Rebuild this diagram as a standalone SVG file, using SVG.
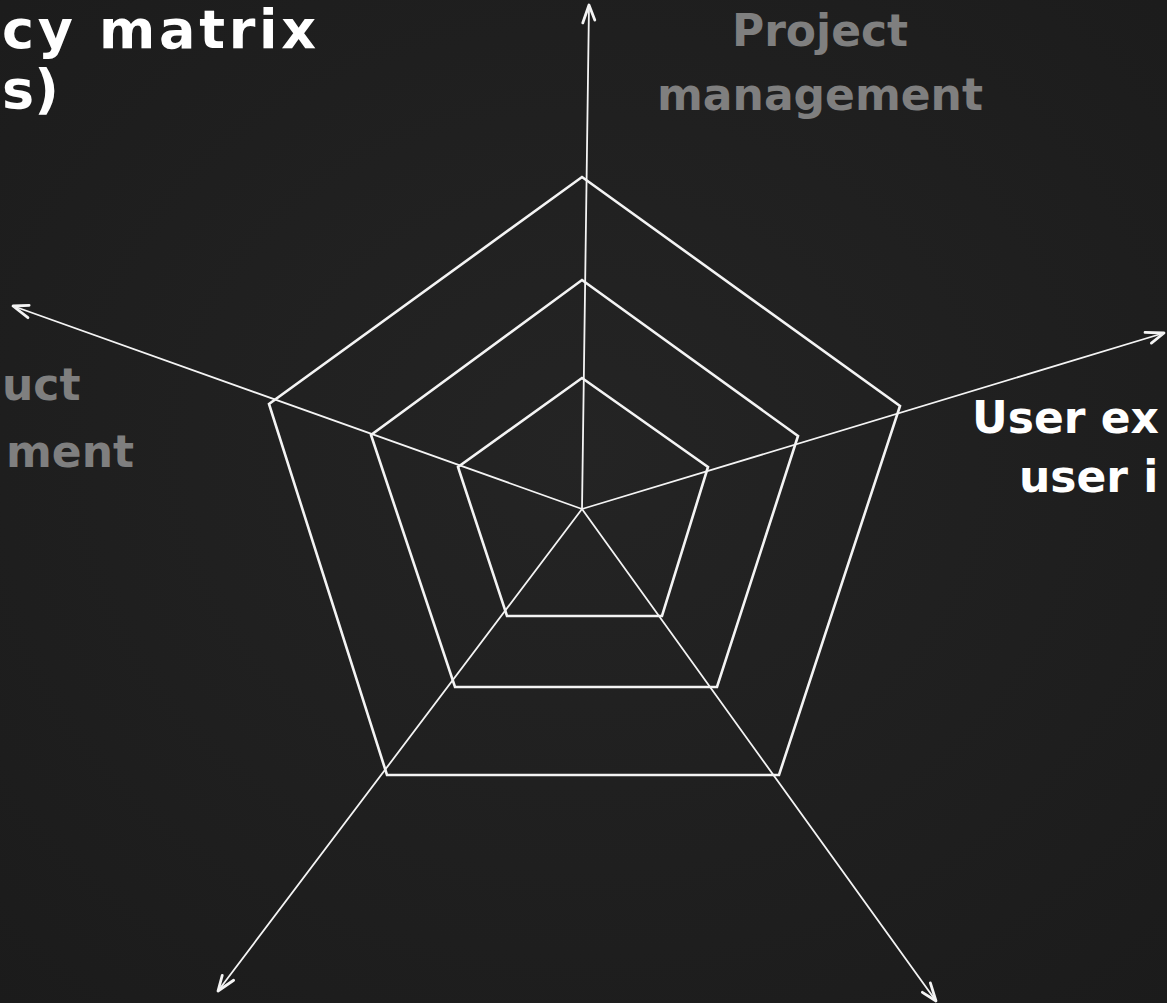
<svg xmlns="http://www.w3.org/2000/svg" width="1167" height="1003" viewBox="0 0 1167 1003">
  <style>
    .web { fill: none; stroke: #f4f4f4; stroke-width: 2.6; stroke-linejoin: miter; }
    .axis { fill: none; stroke: #f4f4f4; stroke-width: 1.8; stroke-linecap: round; }
    .lbl { font-family: "Comic Sans MS", "DejaVu Sans", sans-serif; font-weight: bold; }
    .grey { fill: #7f7f7f; }
    .white { fill: #ffffff; }
  </style>
  <defs>
    <radialGradient id="bg" cx="50%" cy="45%" r="75%">
      <stop offset="0" stop-color="#242424"/>
      <stop offset="1" stop-color="#1b1b1b"/>
    </radialGradient>
    <marker id="arrow" markerUnits="userSpaceOnUse" viewBox="-20 -10 24 20" refX="0" refY="0" markerWidth="24" markerHeight="20" orient="auto">
      <path d="M -18 -6 L 0 0 L -15 6" fill="none" stroke="#f4f4f4" stroke-width="2.8" stroke-linecap="round" stroke-linejoin="round"/>
    </marker>
  </defs>
  <rect width="1167" height="1003" fill="url(#bg)"/>

  <g id="connectors">
    <line class="axis" x1="582" y1="509" x2="589" y2="5" marker-end="url(#arrow)"/>
    <line class="axis" x1="582" y1="509" x2="1164" y2="333" marker-end="url(#arrow)"/>
    <line class="axis" x1="582" y1="509" x2="936" y2="1001" marker-end="url(#arrow)"/>
    <line class="axis" x1="582" y1="509" x2="218" y2="991" marker-end="url(#arrow)"/>
    <line class="axis" x1="582" y1="509" x2="13" y2="306" marker-end="url(#arrow)"/>
  </g>

  <g id="web">
    <polygon id="ring-outer" class="web" points="582,177 900,406 779,775 387,775 269,404"/>
    <polygon id="ring-middle" class="web" points="582,280 798,436 717,687 455,687 371,435"/>
    <polygon id="ring-inner" class="web" points="582,378 708,467 662,616 507,616 458,467"/>
  </g>

  <g id="title" class="lbl white" font-size="54">
    <text x="2" y="48" textLength="314" lengthAdjust="spacing">cy matrix</text>
    <text x="2" y="108">s)</text>
  </g>

  <g id="label-project-management" class="lbl grey" font-size="44" text-anchor="middle">
    <text x="820" y="46">Project</text>
    <text x="820" y="110">management</text>
  </g>

  <g id="label-product-management" class="lbl grey" font-size="44">
    <text x="2" y="400">uct</text>
    <text x="134" y="467" text-anchor="end">ment</text>
  </g>

  <g id="label-user-experience" class="lbl white" font-size="44">
    <text x="972" y="433">User ex</text>
    <text x="1019" y="492">user i</text>
  </g>
</svg>
